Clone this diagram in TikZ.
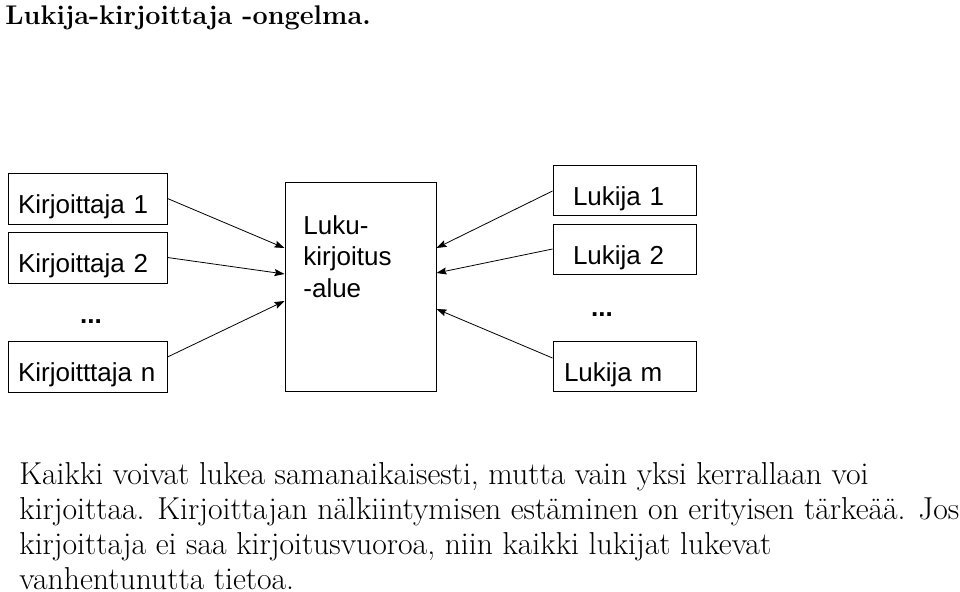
\documentclass[tikz,border=0pt]{standalone}
\usepackage{fontspec}
\newfontfamily\boxfont{Liberation Sans}
\usepackage{tikz}
\usetikzlibrary{arrows.meta}
\tikzset{
	writer node/.style={draw,rectangle,line width=1pt,minimum width=159pt,minimum height=51pt,
		inner xsep=10pt,text width=139pt,align=left,text height=29pt,text depth=0pt,
		font=\boxfont\fontsize{26}{30}\selectfont},
	reader node/.style={draw,rectangle,line width=1pt,minimum width=143pt,minimum height=50pt,
		inner xsep=20pt,text width=103pt,align=left,text height=30pt,text depth=0pt,
		font=\boxfont\fontsize{26}{30}\selectfont},
	area node/.style={draw,rectangle,line width=1pt,minimum width=151pt,minimum height=209pt},
	dots node/.style={font=\boxfont\bfseries\fontsize{26}{30}\selectfont,inner sep=0pt}
}

\begin{document}
\begin{tikzpicture}[x=1pt,y=-1pt,->,>={Stealth[length=10pt,width=7pt,inset=1.5pt]},line width=0.8pt]
	\useasboundingbox (0,0) rectangle (960,591);
	\node [anchor=base west,inner sep=0pt,font=\bfseries\fontsize{27}{30}\selectfont] (title) at (5,25) {Lukija-kirjoittaja -ongelma.};
	% kirjoittajat
	\node [writer node] (w1) at (87.5,198.5) {Kirjoittaja 1};
	\node [writer node] (w2) at (87.5,257.5) {Kirjoittaja 2};
	\node [dots node,anchor=base] (wdots) at (91,323) {...};
	\node [writer node] (wn) at (87.5,366.5) {Kirjoitttaja n};
	% jaettu alue
	\node [area node] (area) at (360.5,286.5) {};
	\node [anchor=base west,inner sep=0pt,align=left,font=\boxfont\fontsize{26}{31.5}\selectfont] (areatext) at (303,297) {Luku-\\kirjoitus\\-alue};
	% lukijat
	\node [reader node] (r1) at (624.5,190) {Lukija 1};
	\node [reader node] (r2) at (624.5,249) {Lukija 2};
	\node [dots node,anchor=base] (rdots) at (602,316) {...};
	\node [reader node,inner xsep=11pt,text width=121pt] (rm) at (624.5,366) {Lukija m};
	\draw (w1.east) -- ([yshift=38.5pt]area.west);
	\draw (w2.east) -- ([yshift=12.5pt]area.west);
	\draw ([yshift=9.5pt]wn.east) -- ([yshift=-14.5pt]area.west);
	\draw ([yshift=-1pt]r1.west) -- ([yshift=38.5pt]area.east);
	\draw (r2.west) -- ([yshift=13.5pt]area.east);
	\draw ([yshift=8pt]rm.west) -- ([yshift=-22.5pt]area.east);
	\node [anchor=north west,inner sep=0pt,align=left,font=\fontsize{31.7}{35}\selectfont] (body) at (19,462)
		{Kaikki voivat lukea samanaikaisesti, mutta vain yksi kerrallaan voi\\
		kirjoittaa. Kirjoittajan nälkiintymisen estäminen on erityisen tärkeää. Jos\\
		kirjoittaja ei saa kirjoitusvuoroa, niin kaikki lukijat lukevat\\
		vanhentunutta tietoa.};
\end{tikzpicture}
\end{document}
